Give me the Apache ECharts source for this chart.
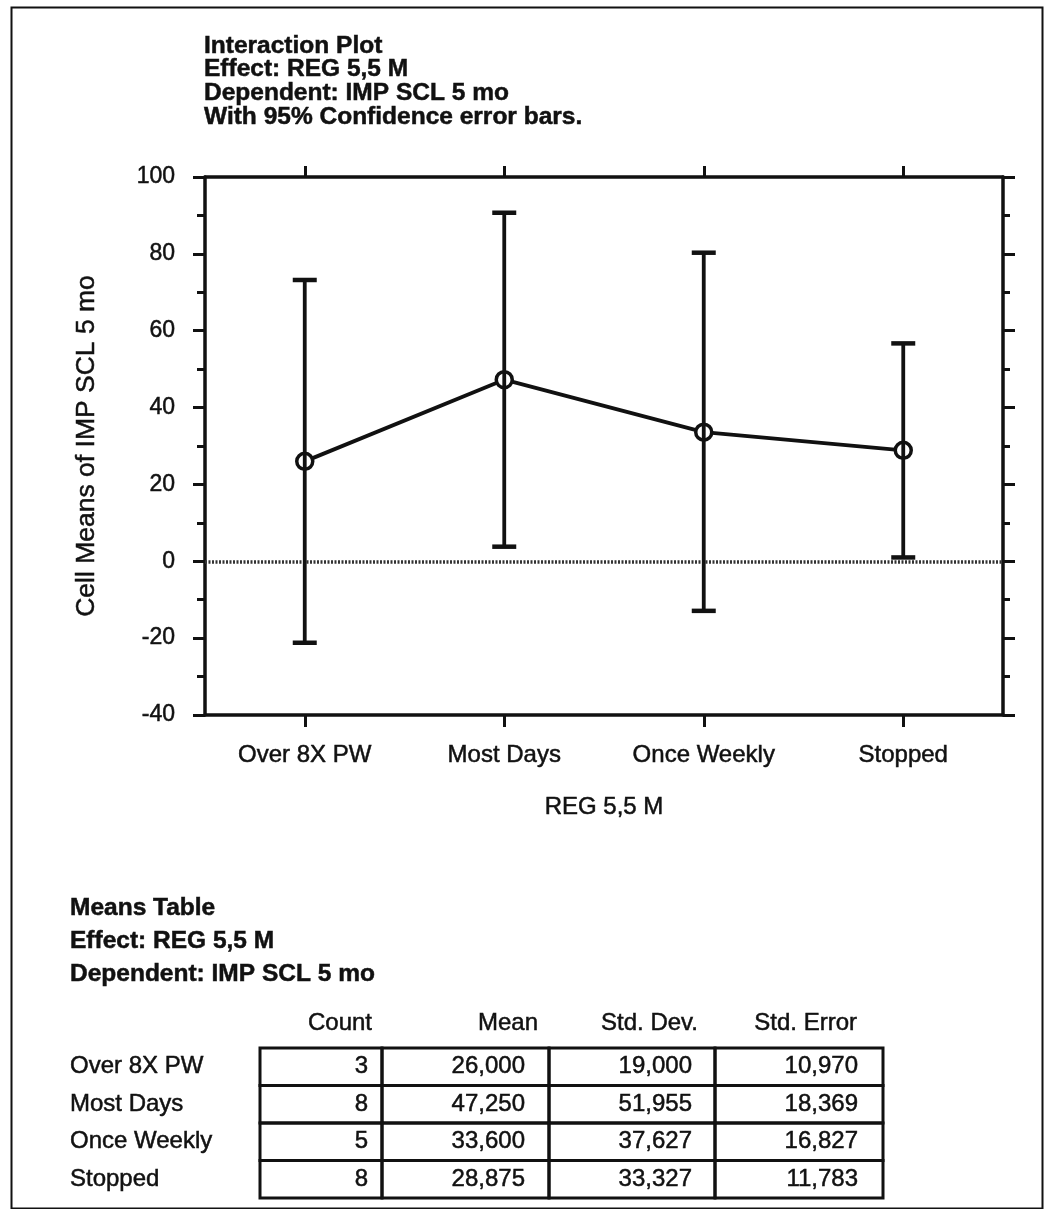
<!DOCTYPE html>
<html>
<head>
<meta charset="utf-8">
<script src="https://cdn.jsdelivr.net/npm/echarts@6/dist/echarts.min.js"></script>
<style>
  html, body { margin: 0; padding: 0; background: #fff; }
  #chart { width: 1051px; height: 1209px; }
</style>
</head>
<body>
<div id="chart"></div>
<script>
// Cell means of IMP SCL 5 mo by REG 5,5 M, with 95% confidence intervals
const categories = ['Over 8X PW', 'Most Days', 'Once Weekly', 'Stopped'];
const cellMeans = [26.0, 47.25, 33.6, 28.875];
const ciLower = [-21.2, 3.8, -12.9, 1.0];
const ciUpper = [73.2, 90.7, 80.3, 56.7];

// Means table columns
const counts = [3, 8, 5, 8];
const stdDevs = [19.0, 51.955, 37.627, 33.327];
const stdErrors = [10.97, 18.369, 16.827, 11.783];
const tableHeaders = ['Count', 'Mean', 'Std. Dev.', 'Std. Error'];

// Value axis range
const yMin = -40, yMax = 100, yStep = 20;

const plotTitleLines = [
  'Interaction Plot',
  'Effect: REG 5,5 M',
  'Dependent: IMP SCL 5 mo',
  'With 95% Confidence error bars.'
];
const tableTitleLines = [
  'Means Table',
  'Effect: REG 5,5 M',
  'Dependent: IMP SCL 5 mo'
];

const FONT = '"Liberation Sans", Arial, Helvetica, sans-serif';
const INK = '#111';
const THICK = 0.5; // slight stroke so text reads as heavy as the printed page

function fmt(v) { return v.toFixed(3).replace('.', ','); }

const chart = echarts.init(document.getElementById('chart'), null, { renderer: 'canvas' });

function txt(x, y, text, font, align) {
  return {
    type: 'text', x: x, y: y,
    style: {
      text: text, font: font, fill: INK, textAlign: align || 'left', textVerticalAlign: 'middle',
      stroke: INK, lineWidth: THICK
    }
  };
}

const graphics = [];
// page frame
graphics.push({
  type: 'rect', left: 9, top: 5, silent: true,
  shape: { width: 1031, height: 1201 },
  style: { fill: 'none', stroke: INK, lineWidth: 2 }
});
plotTitleLines.forEach((t, i) => {
  graphics.push(txt(204, 46 + i * 23.7, t, 'bold 24.5px ' + FONT));
});
tableTitleLines.forEach((t, i) => {
  graphics.push(txt(70, 908 + i * 33, t, 'bold 24.5px ' + FONT));
});

// table geometry
const colEdges = [260, 382, 549, 715, 883];
const headerRight = [372, 538, 698, 857];
const valueRight = [368, 525, 692, 858];
const tableTop = 1048, rowH = 37.5;

tableHeaders.forEach((h, c) => {
  graphics.push(txt(headerRight[c], 1023, h, '24px ' + FONT, 'right'));
});

categories.forEach((cat, r) => {
  const yTop = tableTop + r * rowH;
  const yMid = yTop + rowH / 2;
  graphics.push(txt(70, yMid, cat, '24px ' + FONT));
  const cells = [String(counts[r]), fmt(cellMeans[r]), fmt(stdDevs[r]), fmt(stdErrors[r])];
  cells.forEach((v, c) => {
    graphics.push({
      type: 'rect', x: colEdges[c], y: yTop,
      shape: { width: colEdges[c + 1] - colEdges[c], height: rowH },
      style: { fill: 'none', stroke: INK, lineWidth: 3 }
    });
    graphics.push(txt(valueRight[c], yMid, v, '24px ' + FONT, 'right'));
  });
});

const axisLineStyle = { color: INK, width: 3.5 };
const labelStyle = { fontSize: 24, color: INK, fontFamily: FONT, textBorderColor: INK, textBorderWidth: THICK };

const option = {
  backgroundColor: '#fff',
  animation: false,
  textStyle: { fontFamily: FONT, color: INK },
  grid: { left: 205, right: 48, top: 177, bottom: 494, containLabel: false },
  xAxis: [
    {
      type: 'category', position: 'bottom', data: categories,
      boundaryGap: true,
      axisLine: { show: true, onZero: false, lineStyle: axisLineStyle },
      axisTick: { show: true, alignWithLabel: true, length: 12, lineStyle: { color: INK, width: 3 } },
      axisLabel: Object.assign({ margin: 28 }, labelStyle),
      splitLine: { show: false },
      name: 'REG 5,5 M', nameLocation: 'middle', nameGap: 80,
      nameTextStyle: labelStyle
    },
    {
      type: 'category', position: 'top', data: categories,
      boundaryGap: true,
      axisLine: { show: true, onZero: false, lineStyle: axisLineStyle },
      axisTick: { show: true, alignWithLabel: true, length: 11, lineStyle: { color: INK, width: 3 } },
      axisLabel: { show: false },
      splitLine: { show: false }
    }
  ],
  yAxis: [
    {
      type: 'value', position: 'left', min: yMin, max: yMax, interval: yStep,
      axisLine: { show: true, onZero: false, lineStyle: axisLineStyle },
      axisTick: { show: true, length: 12, lineStyle: { color: INK, width: 3 } },
      minorTick: { show: true, splitNumber: 2, length: 8, lineStyle: { color: INK, width: 3 } },
      axisLabel: Object.assign({ margin: 30 }, labelStyle, { fontSize: 23 }),
      splitLine: { show: false },
      name: 'Cell Means of IMP SCL 5 mo', nameLocation: 'middle', nameGap: 105,
      nameTextStyle: Object.assign({}, labelStyle, { fontSize: 26.5 })
    },
    {
      type: 'value', position: 'right', min: yMin, max: yMax, interval: yStep,
      axisLine: { show: true, onZero: false, lineStyle: axisLineStyle },
      axisTick: { show: true, length: 12, lineStyle: { color: INK, width: 3 } },
      minorTick: { show: true, splitNumber: 2, length: 7, lineStyle: { color: INK, width: 3 } },
      axisLabel: { show: false },
      splitLine: { show: false }
    }
  ],
  graphic: graphics,
  series: [
    {
      type: 'line', name: 'Cell Means', data: cellMeans,
      xAxisIndex: 0, yAxisIndex: 0, z: 3,
      symbol: 'circle', symbolSize: 16,
      lineStyle: { color: INK, width: 3.8 },
      itemStyle: { color: '#fff', borderColor: INK, borderWidth: 3.5 },
      markLine: {
        silent: true, symbol: 'none', z: 1,
        label: { show: false },
        emphasis: { disabled: true },
        lineStyle: { color: '#333', width: 3.5, type: [2, 1.5], opacity: 1 },
        data: [{ yAxis: 0 }]
      }
    },
    {
      type: 'custom', name: '95% CI', z: 4,
      xAxisIndex: 0, yAxisIndex: 0,
      data: categories.map((c, i) => [i, ciLower[i], ciUpper[i]]),
      encode: { x: 0, y: [1, 2] },
      renderItem: function (params, api) {
        const idx = api.value(0);
        const lo = api.coord([idx, api.value(1)]);
        const hi = api.coord([idx, api.value(2)]);
        const half = 12;
        const st = { stroke: INK, lineWidth: 3.8 };
        return {
          type: 'group',
          children: [
            { type: 'line', shape: { x1: lo[0], y1: lo[1], x2: hi[0], y2: hi[1] }, style: st },
            { type: 'line', shape: { x1: hi[0] - half, y1: hi[1], x2: hi[0] + half, y2: hi[1] }, style: { stroke: INK, lineWidth: 4.5 } },
            { type: 'line', shape: { x1: lo[0] - half, y1: lo[1], x2: lo[0] + half, y2: lo[1] }, style: { stroke: INK, lineWidth: 4.5 } }
          ]
        };
      }
    }
  ]
};

chart.setOption(option);
</script>
</body>
</html>
